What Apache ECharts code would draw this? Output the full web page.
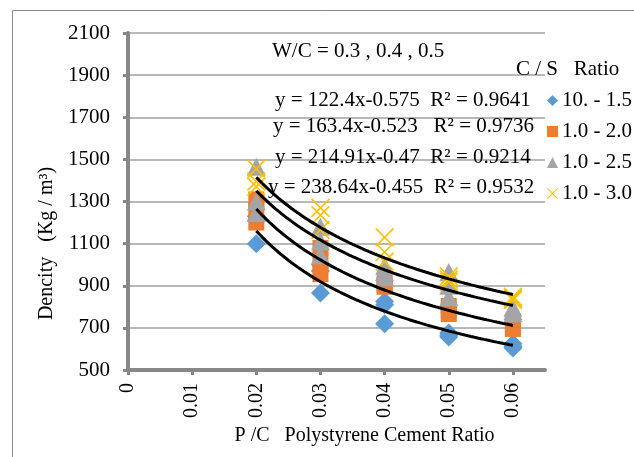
<!DOCTYPE html>
<html>
<head>
<meta charset="utf-8">
<script src="https://cdn.jsdelivr.net/npm/echarts@6/dist/echarts.min.js"></script>
<style>
  html, body { margin: 0; padding: 0; background: #fff; }
  #chart { width: 634px; height: 457px; }
</style>
</head>
<body>
<div id="chart"></div>
<script>
// P/C polystyrene-to-cement ratios where densities were measured
const ratioPC = [0.02, 0.03, 0.04, 0.05, 0.06];
const xTickValues = [0, 0.01, 0.02, 0.03, 0.04, 0.05, 0.06];

// C/S ratio groups (legend names)
const groupNames = ['10. - 1.5', '1.0 - 2.0', '1.0 - 2.5', '1.0 - 3.0'];

// Densities (kg/m3) per C/S group, one array per W/C ratio (0.3, 0.4, 0.5)
const cs15_wc03 = [1100, 865, 720, 657, 604];
const cs15_wc04 = [1210, 970, 810, 665, 612];
const cs15_wc05 = [1230, 1000, 825, 676, 625];

const cs20_wc03 = [1200, 955, 895, 766, 695];
const cs20_wc04 = [1255, 1020, 905, 785, 705];
const cs20_wc05 = [1310, 1080, 915, 804, 718];

const cs25_wc03 = [1465, 1180, 995, 965, 795];
const cs25_wc04 = [1300, 1110, 965, 900, 780];
const cs25_wc05 = [1245, 1045, 940, 845, 770];

const cs30_wc03 = [1455, 1270, 1130, 945, 848];
const cs30_wc04 = [1395, 1235, 1060, 930, 840];
const cs30_wc05 = [1370, 1165, 1015, 918, 832];

// Power trend lines y = a * x^b with their R²
const fitA = [122.4, 163.4, 214.91, 238.64];
const fitB = [-0.575, -0.523, -0.47, -0.455];
const fitR2 = [0.9641, 0.9736, 0.9214, 0.9532];

const groupColors = ['#5B9BD5', '#ED7D31', '#A5A5A5', '#FFC000'];
const FONT = '"Liberation Serif", "Times New Roman", serif';

const groups = [
  [cs15_wc03, cs15_wc04, cs15_wc05],
  [cs20_wc03, cs20_wc04, cs20_wc05],
  [cs25_wc03, cs25_wc04, cs25_wc05],
  [cs30_wc03, cs30_wc04, cs30_wc05]
];

// cross marker as a thin filled polygon
const crossPath = 'path://M0,1.2L1.2,0L10,8.8L18.8,0L20,1.2L11.2,10L20,18.8L18.8,20L10,11.2L1.2,20L0,18.8L8.8,10Z';
const symbols = ['diamond', 'rect', 'triangle', crossPath];
const symbolSizes = [19, 16, [19, 18], 19];

function pairs(values) {
  return values.map((v, i) => [ratioPC[i], v]);
}

const scatterSeries = groups.map((g, k) => ({
  name: groupNames[k],
  type: 'scatter',
  symbol: symbols[k],
  symbolSize: symbolSizes[k],
  itemStyle: { color: groupColors[k], opacity: 1 },
  data: [].concat(pairs(g[0]), pairs(g[1]), pairs(g[2])),
  z: 2 + k
}));

const trendSeries = fitA.map((a, k) => {
  const pts = [];
  const x0 = ratioPC[0], x1 = ratioPC[ratioPC.length - 1];
  for (let i = 0; i <= 80; i++) {
    const x = x0 + (x1 - x0) * i / 80;
    pts.push([x, a * Math.pow(x, fitB[k])]);
  }
  return {
    name: 'trend ' + groupNames[k],
    type: 'line',
    data: pts,
    showSymbol: false,
    silent: true,
    lineStyle: { color: '#000', width: 3 },
    z: 10
  };
});

const eqSpacing = ['  ', '   ', '  ', '  '];
const eqTexts = fitA.map((a, k) =>
  'y = ' + a + 'x' + fitB[k] + eqSpacing[k] + 'R² = ' + fitR2[k]);
const eqX = [275, 273, 275, 268];
const eqY = [100, 126, 157, 187];

const graphics = [
  {
    type: 'rect', silent: true, z: -10,
    shape: { x: 12.5, y: 10.5, width: 700, height: 500 },
    style: { fill: 'none', stroke: '#8c8c8c', lineWidth: 1 }
  },
  {
    type: 'text', x: 272, y: 51, z: 20,
    style: { text: 'W/C = 0.3 , 0.4 , 0.5', font: '21px ' + FONT, fill: '#000', verticalAlign: 'middle' }
  },
  {
    type: 'text', x: 516, y: 69, z: 20,
    style: { text: 'C / S   Ratio', font: '21px ' + FONT, fill: '#000', verticalAlign: 'middle' }
  }
].concat(eqTexts.map((t, k) => ({
  type: 'text', x: eqX[k], y: eqY[k], z: 20,
  style: { text: t, font: '21px ' + FONT, fill: '#000', verticalAlign: 'middle' }
})));

const axisGray = '#878787';

const option = {
  animation: false,
  backgroundColor: '#fff',
  textStyle: { fontFamily: FONT },
  grid: { left: 128, right: 89, top: 33, bottom: 87, containLabel: false, outerBoundsMode: 'none' },
  legend: {
    data: groupNames,
    orient: 'vertical',
    left: 542,
    top: 85,
    itemWidth: 11,
    itemHeight: 11,
    itemGap: 10,
    textStyle: { fontFamily: FONT, fontSize: 21, color: '#000', padding: [0, 0, 0, -1] },
    selectedMode: false
  },
  xAxis: {
    type: 'value',
    min: 0,
    max: 0.065,
    interval: 0.01,
    name: 'P /C   Polystyrene Cement Ratio',
    nameLocation: 'middle',
    nameGap: 56,
    nameTextStyle: { fontFamily: FONT, fontSize: 20, color: '#000', padding: [0, 0, 0, 56] },
    axisLine: { show: true, onZero: false, lineStyle: { color: axisGray, width: 4 } },
    axisTick: { show: true, length: 5, customValues: xTickValues, lineStyle: { color: axisGray, width: 3 } },
    axisLabel: {
      customValues: xTickValues,
      rotate: 90,
      margin: 13,
      fontFamily: FONT,
      fontSize: 20,
      color: '#000',
      formatter: v => String(+v.toFixed(2))
    },
    splitLine: { show: false }
  },
  yAxis: {
    type: 'value',
    min: 500,
    max: 2100,
    interval: 200,
    name: 'Dencity   (Kg / m³)',
    nameLocation: 'middle',
    nameGap: 65,
    nameRotate: 90,
    nameTextStyle: { fontFamily: FONT, fontSize: 20, color: '#000', padding: [0, 84, 0, 0] },
    axisLine: { show: true, lineStyle: { color: axisGray, width: 4 } },
    axisTick: { show: true, length: 5, lineStyle: { color: axisGray, width: 3 } },
    axisLabel: { margin: 18, fontFamily: FONT, fontSize: 21, color: '#000', formatter: v => String(v) },
    splitLine: { show: true, lineStyle: { color: '#a0a0a0', width: 1.5 } }
  },
  graphic: graphics,
  series: scatterSeries.concat(trendSeries)
};

const chart = echarts.init(document.getElementById('chart'), null, { renderer: 'canvas' });
chart.setOption(option);
</script>
</body>
</html>
